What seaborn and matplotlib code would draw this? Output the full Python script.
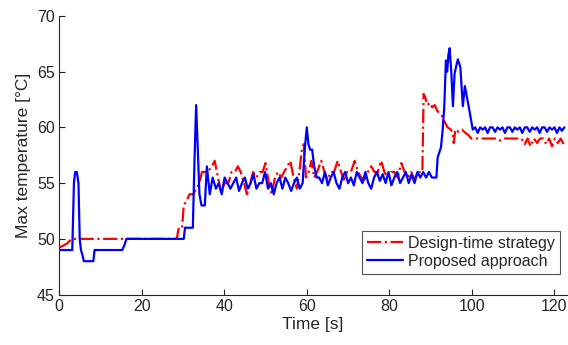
import pandas as pd
import matplotlib
matplotlib.use('Agg')
import matplotlib.pyplot as plt
import seaborn as sns

# design-time strategy (red, dash-dot)
red_t = [0, 1, 2, 3, 28.5, 29.0, 29.8, 30.2, 31.0, 31.6, 32.5, 33.2, 34.0, 34.6,
         35, 36, 37, 37.7, 38.5, 39.3, 40, 41, 41.8, 42.6, 43.3, 44, 44.8, 45.5,
         46.3, 47, 47.8, 48.6, 49.3, 50, 50.8, 51.5, 52.3, 53, 53.8, 54.5, 55.3,
         56, 56.8, 57.6, 58.2, 58.8, 59.3, 59.8,
         60.5, 61.1, 61.8, 62.5, 63.5, 64.3, 65, 65.8, 66.6, 67.5, 68.3, 69, 69.8,
         70.7, 71.6, 72.4, 73.2, 74, 74.8, 75.6, 76.4, 77.2, 78, 78.8, 79.6, 80.4,
         81.2, 82, 82.9, 83.7, 84.5, 85.3, 86.1, 86.9, 87.6, 88.0,
         88.3, 88.7, 89.2, 89.8, 90.4, 91, 91.6, 92.2, 92.8, 93.4, 94.1, 94.9,
         95.3, 95.6, 96.0, 96.8, 97.6, 98.4, 99.2, 99.8, 101, 102, 103, 104, 105,
         106, 107, 108, 109, 110, 111, 112, 112.8, 113.5, 114.2, 115, 115.8,
         116.5, 117.3, 118, 118.7, 119.4, 120.1, 120.8, 121.5, 122.2]
red_v = [49.2, 49.4, 49.6, 50, 50, 51, 51, 53, 53.5, 54, 54, 54.5, 55, 56,
         56, 56, 56.5, 57, 55.5, 54, 55, 55, 56, 56, 56.5, 56, 55, 54,
         55, 56, 55.5, 56, 56, 56.8, 55, 54, 55.5, 56, 55.5, 56, 56.5,
         57, 55.5, 54.5, 56, 58, 58.5, 55.5,
         56, 57, 55.5, 56, 57, 56, 55.3, 56, 56, 57, 56, 55.3, 56,
         56, 57, 56, 55.5, 55.3, 56, 56.5, 56, 56, 57, 56, 55.5, 56,
         56, 55.5, 56.8, 56, 55.5, 56, 55.3, 56, 56, 56,
         63, 62.7, 62, 62.2, 61.8, 62, 61.5, 61.2, 61, 60.5, 60, 59.8,
         59.5, 58.6, 59.8, 59.6, 59.8, 59.5, 59.3, 59, 59, 59, 59, 59, 59,
         59, 58.8, 59, 59, 59, 59, 59, 58.5, 59, 58.3, 59, 58.6,
         59, 59, 58.5, 59, 58.3, 59, 58.6, 59, 58.5]

# proposed approach (blue, solid)
blue_t = [0, 3.2, 3.6, 3.9, 4.3, 4.7, 5.0, 5.3, 5.7, 6.0, 8.3, 8.6, 15.3, 15.9,
          16.3, 30.2, 30.5, 32.1, 32.4, 32.8, 33.2, 33.6, 34.0, 34.5, 35.3, 35.8,
          36.5, 37.2, 38, 38.7, 39.4, 40.1, 40.8, 41.5, 42.2, 42.9, 43.6, 44.3, 45,
          45.7, 46.4, 47.1, 47.8, 48.5, 49.2, 49.9, 50.6, 51.3, 52, 52.7, 53.4,
          54.1, 54.8, 55.5, 56.2, 56.9, 57.6, 58.3, 59.0, 59.5, 60.0, 60.4, 60.8,
          61.3, 61.8, 62.4,
          63, 63.7, 64.4, 65.1, 65.8, 66.5, 67.2, 67.9, 68.6, 69.3, 70, 70.7, 71.4,
          72.1, 72.8, 73.5, 74.2, 74.9, 75.6, 76.3, 77, 77.7, 78.4, 79.1, 79.8,
          80.5, 81.2, 81.9, 82.6, 83.3, 84, 84.7, 85.4, 86.1, 86.8, 87.5, 88.2,
          88.9, 89.6, 90.3, 91.0, 91.4,
          91.7, 92.5, 92.9, 93.3, 93.7, 94.0, 94.3, 94.6, 95.0, 95.4, 95.8, 96.2,
          96.6, 97.2, 97.8, 98.3, 98.8, 99.4, 100.2, 100.8, 101.4, 102, 102.6,
          103.2, 103.8, 104.4, 105, 105.6, 106.2, 106.8, 107.4, 108, 108.6, 109.2,
          109.8, 110.4, 111, 111.6, 112.2, 112.8, 113.4, 114, 114.6, 115.2, 115.8,
          116.4, 117, 117.6, 118.2, 118.8, 119.4, 120, 120.6, 121.2, 121.8, 122.4]
blue_v = [49, 49, 55, 56, 56, 55, 50, 49, 48.5, 48, 48, 49, 49, 49.5,
          50, 50, 51, 51, 51, 57, 62, 58, 54, 53, 53, 56.5,
          54, 55.5, 54.5, 55, 54, 55.5, 55, 54.5, 55, 55.5, 54.3, 55, 55.5,
          54.5, 55, 55.8, 54.5, 55, 55, 56, 54.5, 55, 54, 55, 55.5,
          54.5, 55.5, 55, 54.3, 55, 55.5, 54.5, 55, 58, 60, 58.5, 58,
          58, 56.5, 55.5,
          55.5, 55, 56, 54.8, 55.5, 56, 55, 54.5, 55.5, 56, 55, 55.5, 54.8,
          56, 55.5, 55, 56, 55, 54.5, 55.5, 56, 55.2, 55.8, 55, 56,
          54.8, 55.5, 56, 55, 55.5, 56, 55, 55.8, 55, 56, 55.5, 56,
          55.5, 56, 55.5, 55.5, 55.5,
          57.3, 58.2, 59.7, 61.8, 66, 65, 66.5, 67.1, 65, 61.9, 64.8, 65.5,
          66.1, 65.4, 61.9, 63.7, 62.7, 61.5, 59.8, 60, 59.5, 60, 59.8,
          60, 59.5, 60, 60, 59.6, 60, 59.8, 60, 59.5, 60, 60,
          59.6, 60, 59.8, 60, 59.5, 60, 60, 59.6, 60, 59.8, 60,
          59.5, 60, 60, 59.6, 60, 59.8, 60, 59.5, 60, 59.7, 60]

red_df = pd.DataFrame({'t': red_t, 'T': red_v})
blue_df = pd.DataFrame({'t': blue_t, 'T': blue_v})

sns.set_style('ticks')
plt.rcParams['font.family'] = ['Liberation Sans', 'DejaVu Sans']

fig = plt.figure(figsize=(5.68, 3.45), dpi=100)
ax = fig.add_axes([0.104, 0.146, 0.894, 0.808])

sns.lineplot(data=red_df, x='t', y='T', ax=ax, color='#ff0000', lw=1.6,
             linestyle='-.', estimator=None, sort=False,
             label='Design-time strategy')
sns.lineplot(data=blue_df, x='t', y='T', ax=ax, color='#0000ff', lw=1.6,
             estimator=None, sort=False, label='Proposed approach')

ax.set_xlim(0, 123)
ax.set_ylim(45, 70)
ax.set_xticks([0, 20, 40, 60, 80, 100, 120])
ax.set_yticks([45, 50, 55, 60, 65, 70])
ax.set_xlabel('Time [s]', fontsize=12.5, color='#262626', labelpad=2)
ax.set_ylabel('Max temperature [°C]', fontsize=12.5, color='#262626', labelpad=4)
ax.tick_params(direction='in', length=4, width=0.8, colors='#262626',
               labelsize=11.5, pad=3)
sns.despine(ax=ax)
for s in ['left', 'bottom']:
    ax.spines[s].set_color('#262626')
    ax.spines[s].set_linewidth(0.8)

leg = ax.legend(loc='lower right', bbox_to_anchor=(0.986, 0.075), fontsize=11.5,
                frameon=True, fancybox=False, edgecolor='#262626',
                handlelength=2.3, handletextpad=0.3, borderpad=0.3,
                labelspacing=0.2, borderaxespad=0)
leg.get_frame().set_linewidth(0.8)

fig.savefig('out.png', dpi=100)
